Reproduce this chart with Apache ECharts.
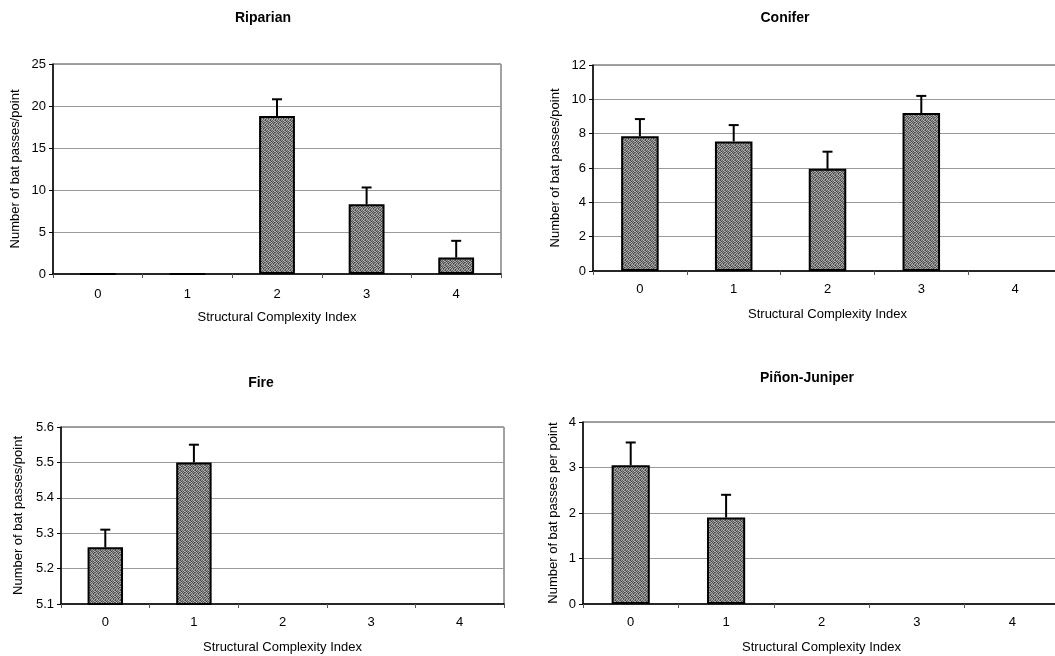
<!DOCTYPE html>
<html>
<head>
<meta charset="utf-8">
<script src="https://cdn.jsdelivr.net/npm/echarts@6/dist/echarts.min.js"></script>
<style>
  html, body { margin: 0; padding: 0; background: #fff; }
  #chart { width: 1055px; height: 656px; }
</style>
</head>
<body>
<div id="chart"></div>
<script>
// shared x categories
const categories = ['0', '1', '2', '3', '4'];

// panel data: bar means and top of the error whisker (null = no bar)
const riparianMeans = [0, 0, 18.8, 8.3, 1.95];
const riparianUpper = [null, null, 20.8, 10.3, 3.95];

const coniferMeans = [7.85, 7.55, 5.95, 9.2, null];
const coniferUpper = [8.85, 8.5, 6.95, 10.2, null];

const fireMeans = [5.26, 5.5, null, null, null];
const fireUpper = [5.31, 5.55, null, null, null];

const pinonMeans = [3.05, 1.9, null, null, null];
const pinonUpper = [3.55, 2.4, null, null, null];

const panels = [
    { title: 'Riparian', yName: 'Number of bat passes/point', means: riparianMeans, upper: riparianUpper,
      min: 0, max: 25, interval: 5, digits: 0, labelMargin: 14,
      grid: { left: 53, top: 64, width: 448, height: 210 }, titlePos: [258, 6], nameGap: 31 },
    { title: 'Conifer', yName: 'Number of bat passes/point', means: coniferMeans, upper: coniferUpper,
      min: 0, max: 12, interval: 2, digits: 0, labelMargin: 12,
      grid: { left: 593, top: 65, width: 469, height: 206 }, titlePos: [780, 6], nameGap: 31 },
    { title: 'Fire', yName: 'Number of bat passes/point', means: fireMeans, upper: fireUpper,
      min: 5.1, max: 5.6, interval: 0.1, digits: 1, labelMargin: 12,
      grid: { left: 61, top: 427, width: 443, height: 177 }, titlePos: [256, 371], nameGap: 36 },
    { title: 'Piñon-Juniper', yName: 'Number of bat passes per point', means: pinonMeans, upper: pinonUpper,
      min: 0, max: 4, interval: 1, digits: 0, labelMargin: 12,
      grid: { left: 583, top: 422, width: 477, height: 182 }, titlePos: [802, 366], nameGap: 23 },
];

// stippled grey fill like the scanned bars
function stipple() {
    const c = document.createElement('canvas');
    c.width = 5; c.height = 5;
    const g = c.getContext('2d');
    const shades = ['#4a4a4a', '#9c9c9c', '#606060', '#b4b4b4', '#707070',
                    '#a4a4a4', '#3e3e3e', '#8c8c8c', '#585858', '#b0b0b0',
                    '#666666', '#b8b8b8', '#545454', '#a0a0a0', '#484848',
                    '#a8a8a8', '#5c5c5c', '#989898', '#444444', '#8a8a8a',
                    '#525252', '#8e8e8e', '#acacac', '#626262', '#9e9e9e'];
    shades.forEach((s, i) => { g.fillStyle = s; g.fillRect(i % 5, Math.floor(i / 5), 1, 1); });
    return c;
}
const fill = { image: stipple(), repeat: 'repeat' };

const font = 'Liberation Sans, Arial, sans-serif';

const option = {
    animation: false,
    backgroundColor: '#fff',
    title: [],
    grid: [],
    xAxis: [],
    yAxis: [],
    series: [],
};

panels.forEach((p, i) => {
    option.title.push({
        text: p.title, left: p.titlePos[0], top: p.titlePos[1], textAlign: 'center',
        textStyle: { fontFamily: font, fontSize: 14, fontWeight: 'bold', color: '#000' },
    });
    option.grid.push(Object.assign({
        show: true, borderColor: '#444', borderWidth: 1, backgroundColor: '#fff',
        outerBoundsMode: 'none',
    }, p.grid));
    option.xAxis.push({
        type: 'category', gridIndex: i, data: categories, boundaryGap: true,
        name: 'Structural Complexity Index', nameLocation: 'middle', nameGap: 37,
        nameTextStyle: { fontFamily: font, fontSize: 13, color: '#000' },
        axisLine: { lineStyle: { color: '#000', width: 1.5 } },
        axisTick: { show: true, length: 4, lineStyle: { color: '#555' } },
        axisLabel: { fontFamily: font, fontSize: 13, color: '#000', margin: p.labelMargin },
    });
    option.yAxis.push({
        type: 'value', gridIndex: i, min: p.min, max: p.max, interval: p.interval,
        name: p.yName, nameLocation: 'middle', nameGap: p.nameGap,
        nameTextStyle: { fontFamily: font, fontSize: 13, color: '#000' },
        axisLine: { show: true, lineStyle: { color: '#000', width: 1.5 } },
        axisTick: { show: true, length: 4, lineStyle: { color: '#000' } },
        axisLabel: { fontFamily: font, fontSize: 13, color: '#000', margin: 7,
                     formatter: v => v.toFixed(p.digits) },
        splitLine: { show: true, lineStyle: { color: '#9a9a9a', width: 1 } },
    });
    option.series.push({
        type: 'bar', xAxisIndex: i, yAxisIndex: i, barWidth: '40%',
        data: p.means.map(v => (v === null ? '-' : v)),
        itemStyle: { color: fill, borderColor: '#000', borderWidth: 2 },
        z: 3,
    });
    option.series.push({
        type: 'custom', xAxisIndex: i, yAxisIndex: i, z: 4,
        data: p.means.map((v, k) => [k, v, p.upper[k]]).filter(d => d[2] !== null),
        encode: { x: 0, y: [1, 2] },
        renderItem: (params, api) => {
            const base = api.coord([api.value(0), api.value(1)]);
            const top = api.coord([api.value(0), api.value(2)]);
            const style = { stroke: '#000', lineWidth: 2 };
            return {
                type: 'group',
                children: [
                    { type: 'line', shape: { x1: base[0], y1: base[1], x2: top[0], y2: top[1] }, style },
                    { type: 'line', shape: { x1: top[0] - 5, y1: top[1], x2: top[0] + 5, y2: top[1] }, style },
                ],
            };
        },
    });
});

const chart = echarts.init(document.getElementById('chart'), null, { renderer: 'canvas' });
chart.setOption(option);
</script>
</body>
</html>
